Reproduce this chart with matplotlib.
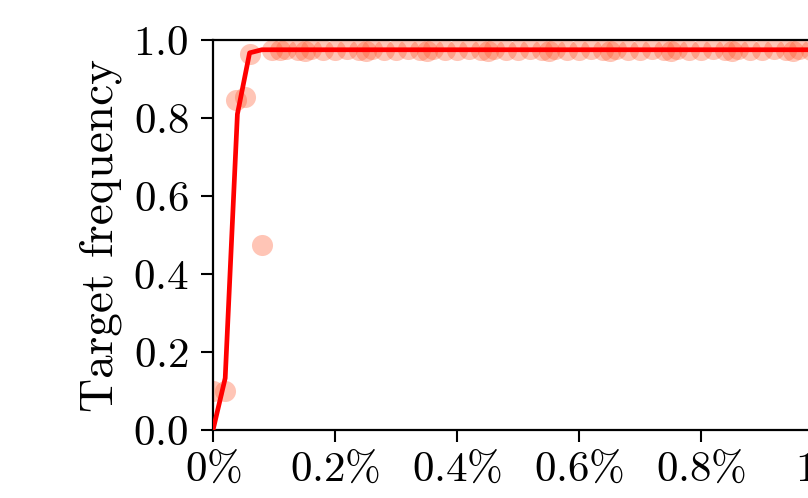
import matplotlib
matplotlib.use('Agg')
from matplotlib import pyplot as plt
from matplotlib.ticker import FuncFormatter

plt.rcParams['font.family'] = 'serif'
plt.rcParams['font.serif'] = ['cmr10']
plt.rcParams['mathtext.fontset'] = 'cm'
plt.rcParams['axes.formatter.use_mathtext'] = True

# observed target frequency per rate (x in %)
obs_x = [0.0, 0.02, 0.037, 0.053, 0.06, 0.08,
         0.097, 0.11, 0.12, 0.14, 0.15, 0.16, 0.18, 0.20, 0.22, 0.24, 0.25, 0.26,
         0.28, 0.30, 0.32, 0.34, 0.35, 0.36, 0.38, 0.40, 0.42, 0.44, 0.45, 0.46,
         0.48, 0.50, 0.52, 0.54, 0.55, 0.56, 0.58, 0.60, 0.62, 0.64, 0.65, 0.66,
         0.68, 0.70, 0.72, 0.74, 0.75, 0.76, 0.78, 0.80, 0.82, 0.84, 0.85, 0.86,
         0.88, 0.90, 0.92, 0.94, 0.95, 0.96, 0.98, 1.00]
obs_y = [0.10, 0.10, 0.845, 0.855, 0.965, 0.475,
         0.975, 0.975, 0.978, 0.975, 0.972, 0.978, 0.975, 0.975, 0.978, 0.975, 0.972, 0.978,
         0.975, 0.975, 0.978, 0.975, 0.972, 0.978, 0.975, 0.975, 0.978, 0.975, 0.972, 0.978,
         0.975, 0.975, 0.978, 0.975, 0.972, 0.978, 0.975, 0.975, 0.978, 0.975, 0.972, 0.978,
         0.975, 0.975, 0.978, 0.975, 0.972, 0.978, 0.975, 0.975, 0.978, 0.975, 0.972, 0.978,
         0.975, 0.975, 0.978, 0.975, 0.972, 0.978, 0.975, 0.975]

# fitted curve
fit_x = [0.0, 0.02, 0.04, 0.06, 0.08, 0.10, 0.20, 0.40, 0.60, 0.80, 1.00]
fit_y = [0.0, 0.133, 0.81, 0.967, 0.975, 0.975, 0.975, 0.975, 0.975, 0.975, 0.975]

fig = plt.figure(figsize=(8.08, 4.98), dpi=100)
ax = fig.add_axes([213 / 808, 68 / 498, 610 / 808, 390 / 498])

ax.scatter(obs_x, obs_y, s=230, color='#ff5a30', alpha=0.35, linewidths=0, zorder=2)
ax.plot(fit_x, fit_y, color='red', linewidth=3.4, zorder=3, solid_capstyle='butt')

ax.set_xlim(0, 1.0)
ax.set_ylim(0, 1.0)
ax.set_xticks([0, 0.2, 0.4, 0.6, 0.8, 1.0])
ax.set_yticks([0, 0.2, 0.4, 0.6, 0.8, 1.0])
ax.xaxis.set_major_formatter(FuncFormatter(lambda v, p: r'$%g\%%$' % round(v, 3)))
ax.yaxis.set_major_formatter(FuncFormatter(lambda v, p: r'$%.1f$' % v))
ax.tick_params(labelsize=31, length=8.5, width=1.5, direction='out')
ax.tick_params(axis='x', pad=7)
ax.tick_params(axis='y', pad=9)
for s in ax.spines.values():
    s.set_linewidth(1.6)

ax.set_ylabel('Target frequency', fontsize=34, labelpad=8)

fig.savefig('out.png', dpi=100)
